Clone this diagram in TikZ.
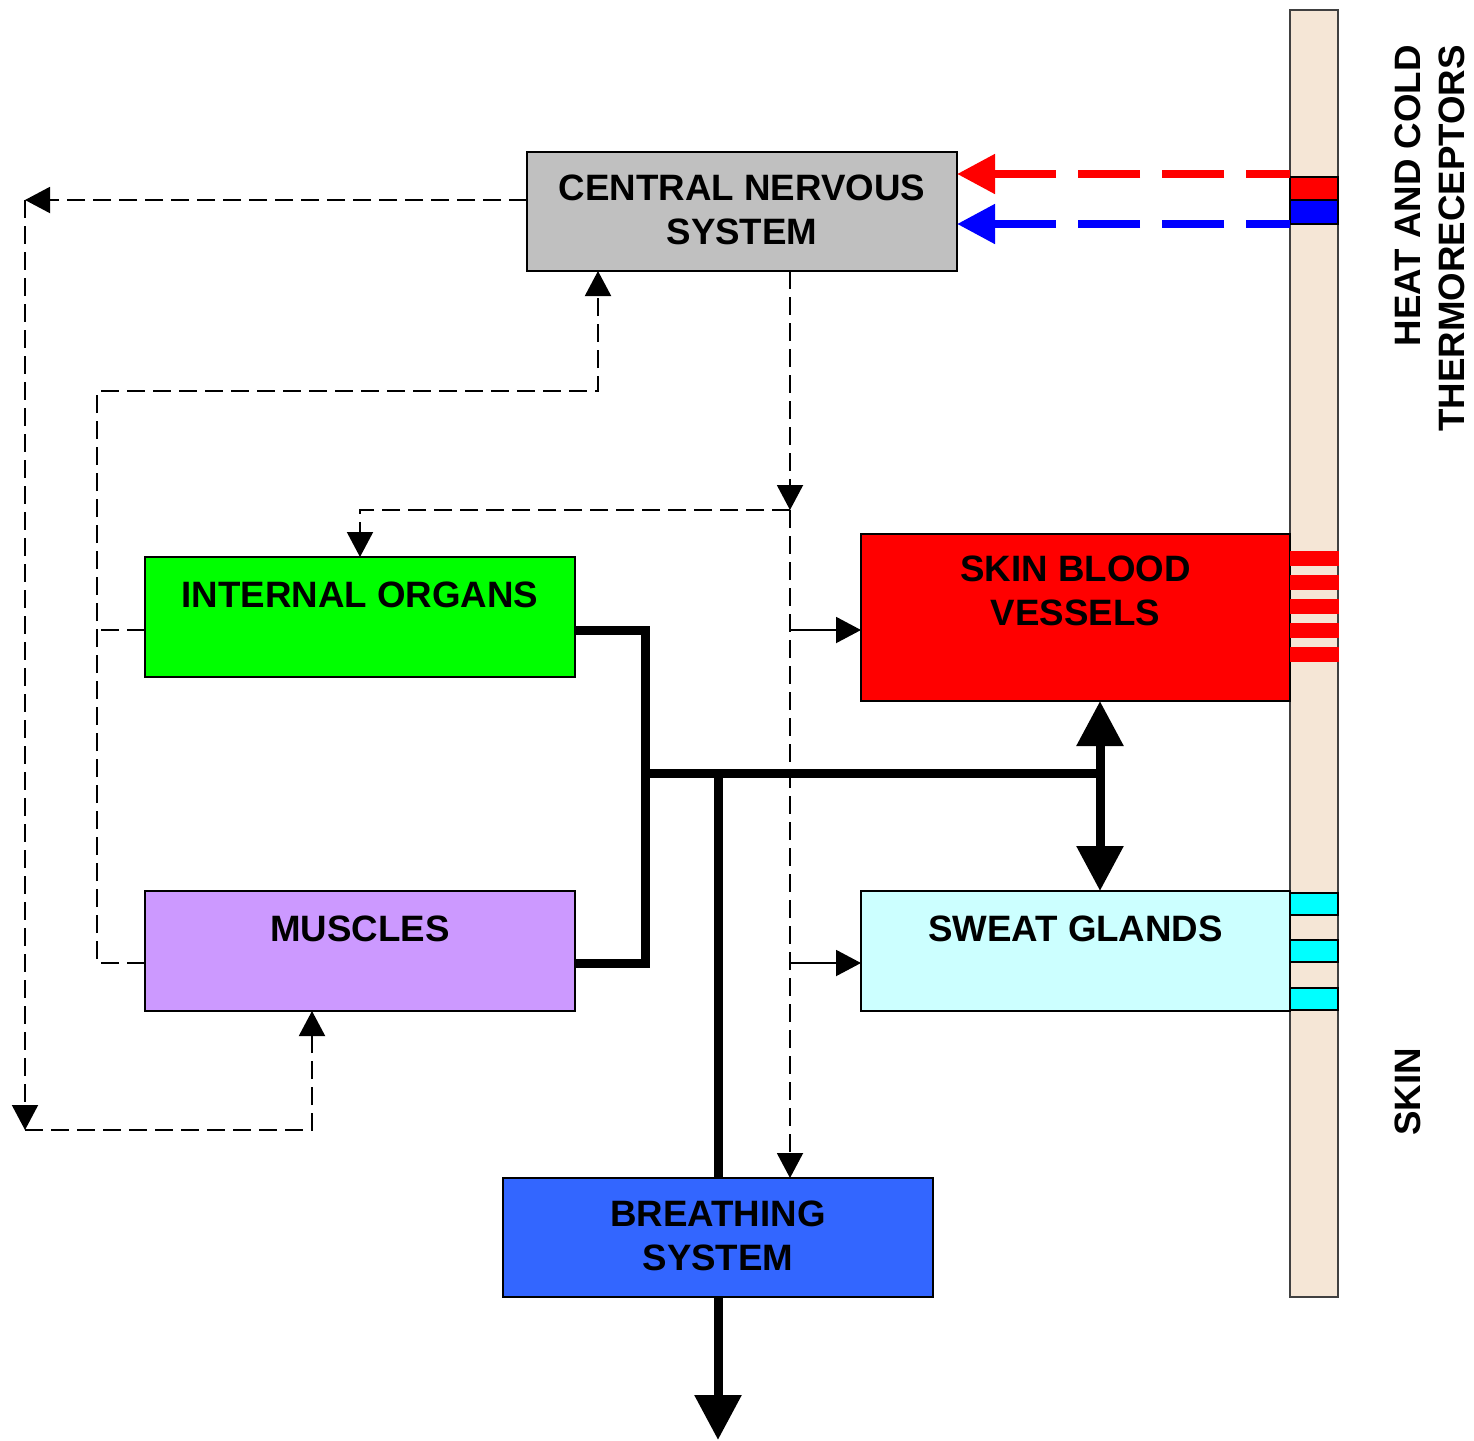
\documentclass[tikz,border=0pt]{standalone}
\usepackage{fontspec}
\setmainfont{Liberation Sans}
\usetikzlibrary{arrows.meta,calc}
\definecolor{cnsgray}{HTML}{C0C0C0}
\definecolor{iogreen}{HTML}{00FF00}
\definecolor{muspurple}{HTML}{CC99FF}
\definecolor{sgcyan}{HTML}{CCFFFF}
\definecolor{brblue}{HTML}{3366FF}
\definecolor{skinbeige}{HTML}{F5E6D6}
\definecolor{skinedge}{HTML}{404040}
\definecolor{recblue}{HTML}{0000FF}
\definecolor{stripecyan}{HTML}{00FFFF}
\begin{document}
\begin{tikzpicture}[x=0.5pt,y=-0.5pt,
  box/.style={draw=black, line width=1pt, minimum width=215pt, minimum height=60pt, inner sep=0pt, outer sep=0pt},
  lbl/.style={inner sep=0pt, align=center, font=\fontsize{18.35pt}{22pt}\selectfont\bfseries, anchor=north},
  ctrl/.style={line width=1pt, dash pattern=on 9pt off 4pt},
  sarrow/.style={-{Triangle[length=12.5pt,width=13pt]}},
  bigline/.style={line width=4.5pt},
  bigarrow/.style={-{Triangle[length=22.5pt,width=22.5pt]}},
  bigboth/.style={{Triangle[length=22.5pt,width=22.5pt]}-{Triangle[length=22.5pt,width=22.5pt]}},
  recep/.style={line width=4pt, dash pattern=on 31pt off 11pt, dash phase=9pt, -{Triangle[length=19pt,width=19pt]}}
]
\useasboundingbox (0,0) rectangle (1474,1441);

% skin bar
\node[draw=skinedge, fill=skinbeige, line width=1pt, minimum width=24pt, minimum height=643.5pt, inner sep=0pt, outer sep=0pt] (skin) at (1314,653.5) {};

% boxes
\node[box, fill=cnsgray, minimum height=59.5pt] (cns) at (742,211.5) {};
\node[box, fill=iogreen] (io) at (360,617) {};
\node[box, fill=muspurple] (mus) at (360,951) {};
\node[box, fill=red, minimum width=214.5pt, minimum height=83.5pt] (sbv) at (1075.5,617.5) {};
\node[box, fill=sgcyan, minimum width=214.5pt] (sg) at (1075.5,951) {};
\node[box, fill=brblue, minimum height=59.5pt] (br) at (718,1237.5) {};

% box texts
\node[lbl] (cnst) at ($(cns.north)+(0,22)$) {CENTRAL NERVOUS\\SYSTEM};
\node[lbl] (iot) at ($(io.north)+(0,24)$) {INTERNAL ORGANS};
\node[lbl] (must) at ($(mus.north)+(0,24)$) {MUSCLES};
\node[lbl] (sbvt) at ($(sbv.north)+(0,21)$) {SKIN BLOOD\\VESSELS};
\node[lbl] (sgt) at ($(sg.north)+(0,24)$) {SWEAT GLANDS};
\node[lbl] (brt) at ($(br.north)+(0,22)$) {BREATHING\\SYSTEM};

% receptors
\node[draw=black, line width=1pt, fill=red, minimum width=24pt, minimum height=11.5pt, inner sep=0pt, outer sep=0pt] (rrec) at (1314,188.5) {};
\node[draw=black, line width=1pt, fill=recblue, minimum width=24pt, minimum height=12pt, inner sep=0pt, outer sep=0pt] (brec) at (1314,212) {};

% skin blood vessel stripes
\foreach \yy in {558,582,606,630,654}{
  \fill[red] (1290,\yy-7.5) rectangle (1339,\yy+7.5);
}
% sweat gland stripes
\foreach \yy in {904,951,999}{
  \filldraw[fill=stripecyan, draw=black, line width=1pt] (1290,\yy-11) rectangle (1338,\yy+11);
}

% receptor signals
\coordinate (ra) at (1290,174);
\coordinate (ba) at (1290,224);
\draw[recep, red] (ra) -- (ra -| cns.east);
\draw[recep, recblue] (ba) -- (ba -| cns.east);

% control lines from CNS to muscles (outer loop)
\coordinate (a1) at (25,200);
\coordinate (a2) at (25,1130);
\coordinate (a3) at (312,1130);
\draw[ctrl, sarrow] (cns.west |- a1) -- (a1);
\draw[ctrl, sarrow] (a1) -- (a2);
\draw[ctrl, sarrow] (a2) -- (a3) -- (a3 |- mus.south);

% feedback from organs and muscles to CNS
\coordinate (b1) at (97,630);
\coordinate (b2) at (97,963);
\coordinate (b3) at (97,391);
\coordinate (b4) at (598,391);
\draw[ctrl] (io.west |- b1) -- (b1);
\draw[ctrl, sarrow] (mus.west |- b2) -- (b2) -- (b3) -- (b4) -- (b4 |- cns.south);

% CNS downwards
\coordinate (d1) at (790,510);
\draw[ctrl, sarrow] (cns.south -| d1) -- (d1);
\draw[ctrl, sarrow] (d1) -- (d1 -| io.north) -- (io.north);
\draw[ctrl, sarrow] (d1) -- (d1 |- br.north);
\coordinate (e1) at (790,630);
\coordinate (e2) at (790,963);
\draw[line width=1pt, sarrow] (e1) -- (e1 -| sbv.west);
\draw[line width=1pt, sarrow] (e2) -- (e2 -| sg.west);

% thick heat flow lines
\coordinate (t1) at (645,630);
\coordinate (t2) at (645,963);
\coordinate (t3) at (645,773);
\coordinate (t4) at (1100,773);
\coordinate (t5) at (718,773);
\draw[bigline] (io.east |- t1) -- (t1) -- (t2) -- (mus.east |- t2);
\draw[bigline] (t3) -- (t4);
\draw[bigline] (t5) -- (t5 |- br.north);
\draw[bigline, bigarrow] (br.south) -- ++(0,143);
\draw[bigline, bigboth] (sbv.south -| t4) -- (sg.north -| t4);

% side labels
\node[rotate=90, align=right, inner sep=0pt, font=\fontsize{18.35pt}{22pt}\selectfont\bfseries] (thermo) at (1430,238.5) {HEAT AND COLD\\THERMORECEPTORS};
\node[rotate=90, inner sep=0pt, font=\fontsize{18.35pt}{22pt}\selectfont\bfseries] (skinlbl) at (1408,1092) {SKIN};
\end{tikzpicture}
\end{document}
